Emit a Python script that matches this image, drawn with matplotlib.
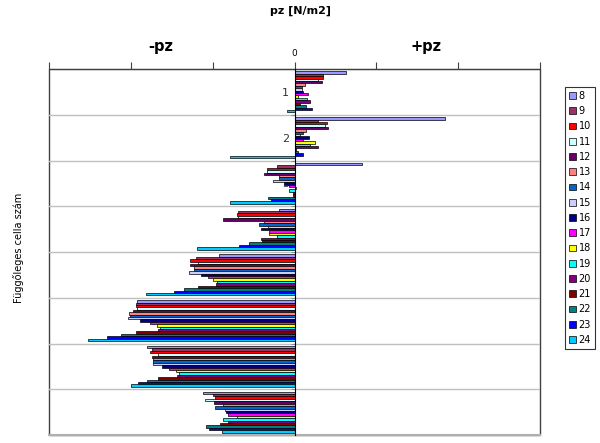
import numpy as np
import matplotlib
matplotlib.use("Agg")
import matplotlib.pyplot as plt
from matplotlib.patches import Rectangle

# categories (vertical cell numbers) and series names
categories = ["1", "2", "3", "4", "5", "6", "7", "8"]
series_names = ["8", "9", "10", "11", "12", "13", "14", "15", "16",
                "17", "18", "19", "20", "21", "22", "23", "24"]
series_colors = ["#9999FF", "#993366", "#FF0000", "#CCFFFF", "#660066", "#FF8080",
                 "#0066CC", "#CCCCFF", "#000080", "#FF00FF", "#FFFF00", "#00FFFF",
                 "#800080", "#800000", "#008080", "#0000FF", "#00CCFF"]

# pz values per category (rows) for series 8..24 (columns), unlabeled axis units
cell1 = [51, 28, 28, 23, 27, 10, 7, 7, 8, 13, 3, 12, 15, 5, 11, 17, -7]
cell2 = [150, 23, 32, 30, 33, 11, 8, 5, 14, 8, 20, 15, 23, 1, 3, 8, -64]
cell3 = [67, -17, -27, -27, -30, -15, -15, -21, -10, -5, 1, -5, -1, -1, -26, -23, -64]
cell4 = [-15, -56, -57, -56, -71, -30, -35, -26, -33, -25, -25, -17, -33, -32, -45, -55, -97]
cell5 = [-75, -98, -104, -96, -104, -100, -100, -105, -93, -86, -81, -77, -78, -96, -110, -120, -148]
cell6 = [-157, -158, -158, -157, -161, -165, -164, -166, -154, -144, -137, -134, -136, -158, -173, -187, -206]
cell7 = [-147, -142, -144, -136, -142, -141, -141, -141, -132, -125, -118, -115, -117, -136, -147, -156, -163]
cell8 = [-91, -81, -79, -89, -80, -71, -79, -69, -68, -66, -57, -71, -66, -74, -88, -85, -72]

data = np.array([cell1, cell2, cell3, cell4, cell5, cell6, cell7, cell8], dtype=float)

fig = plt.figure(figsize=(6.0, 4.43), dpi=100)
ax = fig.add_axes([49/600, 1-435/443, (540-49)/600, (435-69)/443])

n_cat, n_ser = data.shape
ypos = np.arange(1, n_cat + 1)
group_h = 0.895
bar_h = group_h / n_ser
for j in range(n_ser):
    y = ypos - group_h/2 + (j + 0.5) * bar_h
    ax.barh(y, data[:, j], height=bar_h, color=series_colors[j],
            edgecolor="black", linewidth=0.5, zorder=3, label=series_names[j])

ax.set_xlim(-245, 245)
ax.set_ylim(n_cat + 0.5, 0.5)

# category gridlines between groups
for b in np.arange(1.5, n_cat, 1.0):
    ax.axhline(b, color="#C0C0C0", linewidth=1.0, zorder=1)

# value axis on top
ax.xaxis.tick_top()
xt = np.linspace(-245, 245, 7)
ax.set_xticks(xt)
ax.set_xticklabels(["" if abs(v) > 1e-9 else "0" for v in xt], fontsize=6.5)
ax.tick_params(axis="x", direction="out", length=5, width=0.8, color="#404040", pad=3)

# category axis at zero
ax.spines["left"].set_position(("data", 0))
ax.spines["left"].set_color("black")
ax.spines["left"].set_zorder(4)
ax.set_yticks(np.arange(1.5, n_cat, 1.0))
ax.set_yticklabels([])
ax.tick_params(axis="y", which="major", direction="out", length=3, width=0.6, color="#808080")
ax.set_yticks(ypos, minor=True)
ax.set_yticklabels(categories, minor=True, fontsize=8, color="#333333")
ax.tick_params(axis="y", which="minor", length=0, pad=4)
for lab in ax.get_yticklabels(minor=True):
    lab.set_zorder(0.5)

ax.spines["right"].set_visible(False)
ax.spines["bottom"].set_visible(False)
ax.spines["top"].set_color("#404040")
ax.add_patch(Rectangle((0, 0), 1, 1, transform=ax.transAxes, fill=False,
                       edgecolor="#404040", linewidth=1.0, zorder=0.8, clip_on=False))
ax.plot([0, 1], [0, 0], transform=ax.transAxes, color="#B0B0B0", linewidth=1.5, clip_on=False, zorder=0.9)

# texts
fig.text(300/600, 1-11/443, "pz [N/m2]", ha="center", va="center", fontsize=8, fontweight="bold")
fig.text(161/600, 1-47/443, "-pz", ha="center", va="center", fontsize=10.5, fontweight="bold")
fig.text(426/600, 1-47/443, "+pz", ha="center", va="center", fontsize=10.5, fontweight="bold")
fig.text(19/600, 1-248/443, "Függőleges cella szám", ha="center", va="center",
         rotation=90, fontsize=7)

leg = fig.legend(loc="upper left", bbox_to_anchor=(565/600, 1-87/443), fontsize=7,
                 frameon=True, fancybox=False, edgecolor="black", handlelength=0.7,
                 handleheight=0.7, handletextpad=0.3, labelspacing=0.54,
                 borderpad=0.4, borderaxespad=0)
leg.get_frame().set_linewidth(0.8)

fig.savefig("out.png", dpi=100)
